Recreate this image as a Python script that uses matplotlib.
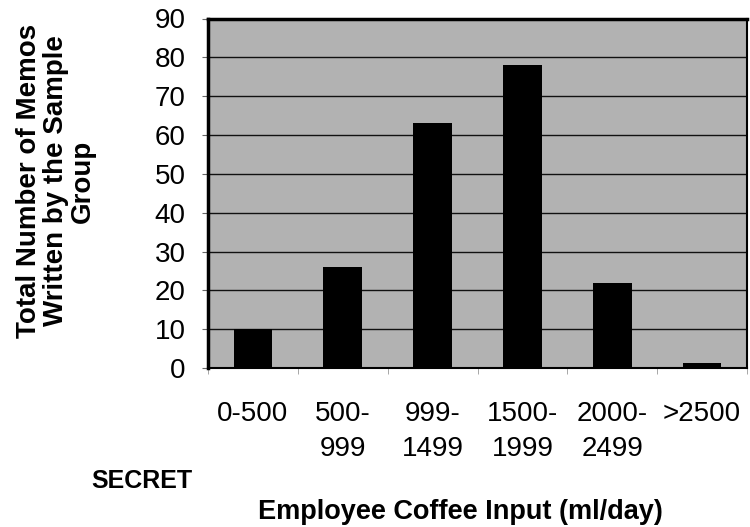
import matplotlib
matplotlib.use("Agg")
import matplotlib.pyplot as plt
import numpy as np

categories = ["0-500", "500-\n999", "999-\n1499", "1500-\n1999", "2000-\n2499", ">2500"]
memos = [10, 26, 63, 78, 22, 1.4]
yticks = [0, 10, 20, 30, 40, 50, 60, 70, 80, 90]

plt.rcParams['font.family'] = ['Liberation Sans', 'DejaVu Sans']

W, H = 750, 527
fig = plt.figure(figsize=(W / 100, H / 100), dpi=100)
fig.patch.set_facecolor('white')

L, R, T, B = 208, 747, 18.5, 368
ax = fig.add_axes([L / W, 1 - B / H, (R - L) / W, (B - T) / H])
ax.set_facecolor('#b2b2b2')

x = np.arange(len(categories))
ax.bar(x, memos, width=0.43, color='black', zorder=3)
ax.set_xlim(-0.5, len(categories) - 0.5)
ax.set_ylim(0, 90)
ax.set_yticks(yticks)
ax.set_yticklabels([str(v) for v in yticks], fontsize=20)
ax.yaxis.grid(True, color='#111111', linewidth=1.0, zorder=1)
ax.set_axisbelow(True)

ax.set_xticks(x)
ax.set_xticklabels(categories, fontsize=20, linespacing=1.45)
ax.tick_params(axis='x', length=0, pad=24)
ax.tick_params(axis='y', length=4, width=0.8, pad=12, color='#666666')
ax.set_xticks(np.arange(-0.5, len(categories), 1), minor=True)
ax.tick_params(axis='x', which='minor', length=4, color='#999999')

ax.spines['top'].set_linewidth(2.5)
ax.spines['left'].set_linewidth(2.5)
ax.spines['right'].set_linewidth(1.5)
ax.spines['bottom'].set_linewidth(1.5)
for s in ax.spines.values():
    s.set_color('black')

fig.text(56 / W, 1 - 181 / H, "Total Number of Memos\nWritten by the Sample\nGroup",
         rotation=90, ha='center', va='center', fontsize=20, fontweight='bold',
         linespacing=1.05)
fig.text(142 / W, 1 - 481 / H, "SECRET", ha='center', va='center',
         fontsize=18, fontweight='bold')
fig.text(460 / W, 1 - 512 / H, "Employee Coffee Input (ml/day)", ha='center',
         va='center', fontsize=19.5, fontweight='bold')

fig.savefig("out.png", dpi=100)
